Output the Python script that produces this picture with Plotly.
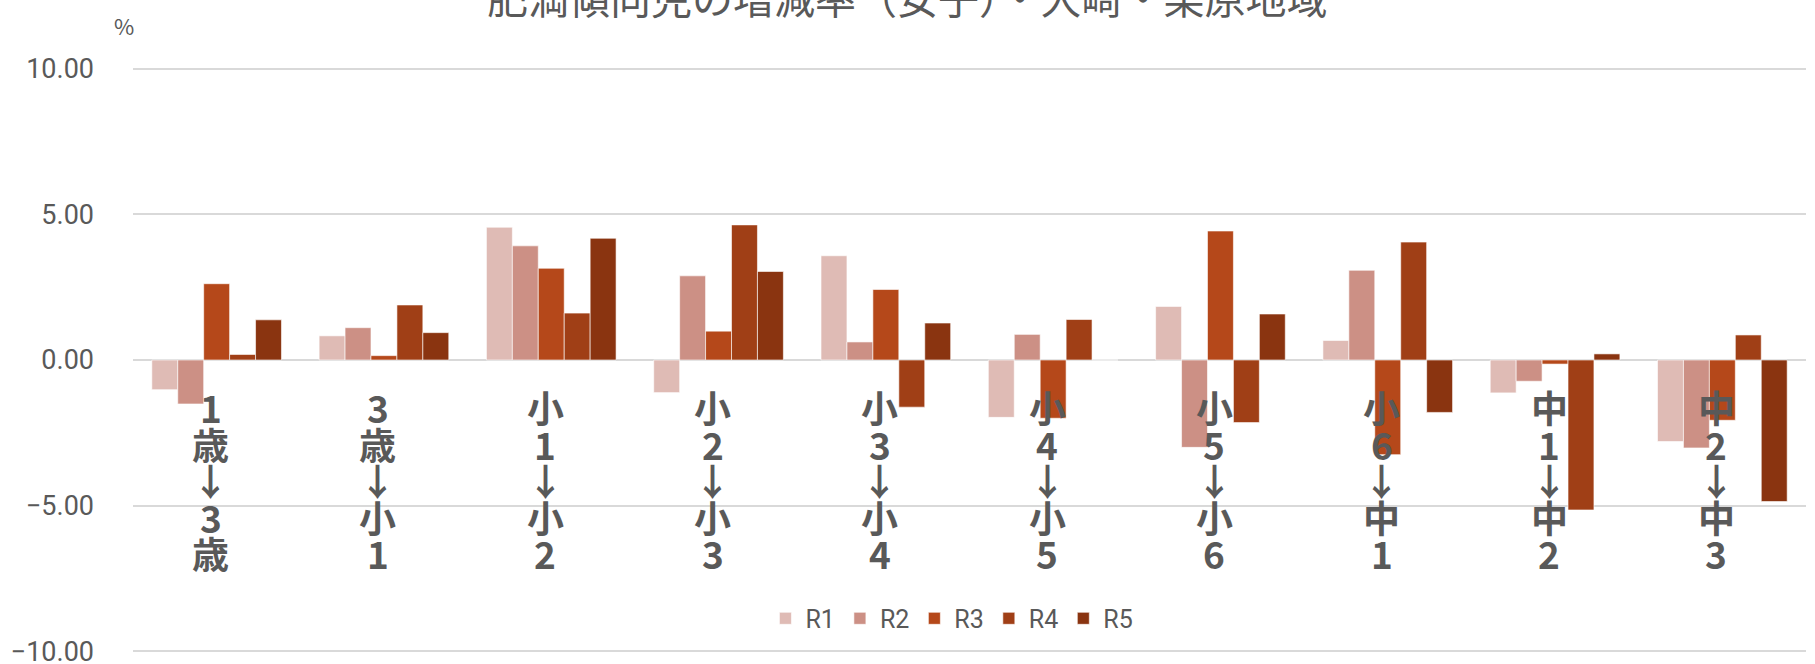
import plotly.graph_objects as go

categories = ["1歳↓3歳", "3歳↓小1", "小1↓小2", "小2↓小3", "小3↓小4",
              "小4↓小5", "小5↓小6", "小6↓中1", "中1↓中2", "中2↓中3"]
series_names = ["R1", "R2", "R3", "R4", "R5"]
r1 = [-1.02, 0.83, 4.56, -1.12, 3.58, -1.97, 1.84, 0.67, -1.13, -2.80]
r2 = [-1.51, 1.11, 3.92, 2.89, 0.62, 0.88, -3.00, 3.08, -0.73, -3.02]
r3 = [2.62, 0.15, 3.15, 0.99, 2.42, -2.00, 4.43, -3.25, -0.14, -2.07]
r4 = [0.19, 1.89, 1.61, 4.64, -1.62, 1.39, -2.15, 4.05, -5.15, 0.86]
r5 = [1.38, 0.94, 4.18, 3.04, 1.27, 0.00, 1.58, -1.80, 0.21, -4.86]
colors = ["#DFBBB5", "#CC9085", "#B5481A", "#A03F16", "#8A3410"]
title_text = "肥満傾向児の増減率（女子）・大崎・栗原地域"
y_ticks = [-10, -5, 0, 5, 10]

T, B = 66.5, 10.5
PLOT_H = 664 - T - B
YR = 10.062

fig = go.Figure()
for name, vals, col in zip(series_names, [r1, r2, r3, r4, r5], colors):
    fig.add_trace(go.Bar(
        name=name, x=categories, y=vals,
        marker=dict(color=col, line=dict(color="white", width=0.6)),
    ))

# vertical category labels, one character per line
annotations = []
for cat in categories:
    for i, ch in enumerate(cat):
        annotations.append(dict(
            x=cat, y=0, xref="x", yref="y", text=ch, showarrow=False,
            xanchor="center", yanchor="middle", xshift=-6,
            yshift=-(47 + i * 36.5),
            font=dict(family="Noto Sans CJK JP", size=37, color="#595959", weight="bold"),
        ))
annotations.append(dict(
    xref="paper", yref="paper", x=(124 - 133) / 1673, y=1 + (T - 24) / PLOT_H,
    text="%", showarrow=False, xanchor="center", yanchor="middle",
    font=dict(family="Noto Sans CJK JP", size=22, color="#595959"),
))
# chart title (partly above the top edge, as in the reference)
annotations.append(dict(
    xref="paper", yref="paper", x=(907 - 133) / 1673, y=1 + (T + 5) / PLOT_H,
    text=title_text, showarrow=False, xanchor="center", yanchor="middle",
    font=dict(family="Noto Sans CJK JP", size=41, color="#595959"),
))

fig.update_layout(
    width=1815, height=664,
    margin=dict(l=133, r=9, t=T, b=B, autoexpand=False),
    paper_bgcolor="white", plot_bgcolor="white",
    barmode="group", bargap=0.225, bargroupgap=0,
    showlegend=True,
    legend=dict(orientation="h", x=0.4895, xanchor="center",
                y=(664 - B - 619) / PLOT_H, yanchor="middle",
                font=dict(family="Roboto", size=25, color="#595959"),
                bgcolor="rgba(0,0,0,0)", traceorder="normal"),
    annotations=annotations,
    xaxis=dict(type="category", range=[-0.5, 9.5], showticklabels=False,
               showgrid=False, zeroline=False, showline=False, ticks="", automargin=False),
    yaxis=dict(range=[-YR, YR], tickvals=y_ticks, tickformat=".2f",
               showgrid=True, gridcolor="#D9D9D9", gridwidth=1.5,
               zeroline=True, zerolinecolor="#D9D9D9", zerolinewidth=1.5,
               showline=False, ticks="", ticklabelstandoff=38, automargin=False,
               ticklabeloverflow="allow",
               tickfont=dict(family="Roboto", size=27, color="#595959")),
)

fig.write_html(
    "out.html",
    config={"displayModeBar": False},
    post_script="document.body.style.margin='0';document.body.style.padding='0';"
                "document.body.style.overflow='hidden';",
)
